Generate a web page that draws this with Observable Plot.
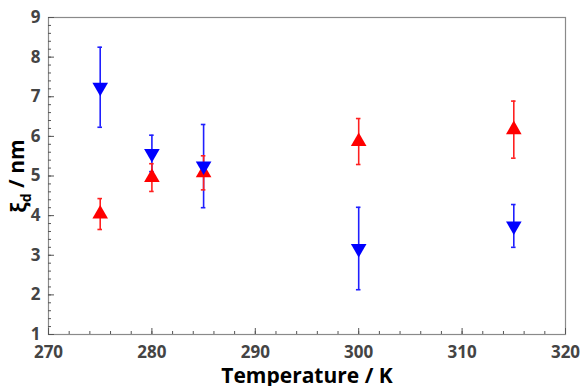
<!DOCTYPE html>
<html>
<head>
<meta charset="utf-8">
<script src="https://cdn.jsdelivr.net/npm/d3@7"></script>
<script src="https://cdn.jsdelivr.net/npm/@observablehq/plot@0.6"></script>
<style>
  html, body { margin: 0; padding: 0; background: #fff; }
  svg { display: block; }
</style>
</head>
<body>
<div id="chart"></div>
<script>
// Data
const temperatures = [275, 280, 285, 300, 315];
const blueValues = [7.24, 5.57, 5.25, 3.17, 3.74];   // downward triangles
const blueErrors = [1.01, 0.46, 1.05, 1.04, 0.54];
const redValues  = [4.04, 4.96, 5.08, 5.87, 6.17];   // upward triangles
const redErrors  = [0.39, 0.35, 0.43, 0.58, 0.72];
const xMajorTicks = [270, 280, 290, 300, 310, 320];
const xMinorTicks = d3.range(270, 321, 2);
const yMajorTicks = [1, 2, 3, 4, 5, 6, 7, 8, 9];
const yMinorTicks = d3.range(1, 9.01, 0.2).map(v => +v.toFixed(1));

const blue = temperatures.map((t, i) => ({t, v: blueValues[i], e: blueErrors[i]}));
const red = temperatures.map((t, i) => ({t, v: redValues[i], e: redErrors[i]}));

const capHalf = 0.22;
const fontFam = "'Open Sans', 'DejaVu Sans', sans-serif";

function bars(data, color) {
  return [
    Plot.ruleX(data, {x: "t", y1: d => d.v - d.e, y2: d => d.v + d.e, stroke: color, strokeWidth: 1.6}),
    Plot.ruleY(data, {y: d => d.v + d.e, x1: d => d.t - capHalf, x2: d => d.t + capHalf, stroke: color, strokeWidth: 1.6}),
    Plot.ruleY(data, {y: d => d.v - d.e, x1: d => d.t - capHalf, x2: d => d.t + capHalf, stroke: color, strokeWidth: 1.6})
  ];
}

const chart = Plot.plot({
  width: 580,
  height: 386,
  marginLeft: 48,
  marginRight: 15,
  marginTop: 17,
  marginBottom: 52,
  style: {fontFamily: fontFam, background: "#fff"},
  x: {domain: [270, 320]},
  y: {domain: [1, 9]},
  marks: [
    Plot.frame({stroke: "#8a8a8a", strokeWidth: 1.2}),
    // minor ticks (inward)
    Plot.axisX({ticks: xMinorTicks, tickSize: -3, tickFormat: () => "", label: null, stroke: "#555"}),
    Plot.axisY({ticks: yMinorTicks, tickSize: -3, tickFormat: () => "", label: null, stroke: "#555"}),
    // major ticks (inward)
    Plot.axisX({ticks: xMajorTicks, tickSize: -6, tickFormat: () => "", label: null, stroke: "#555"}),
    Plot.axisY({ticks: yMajorTicks, tickSize: -6, tickFormat: () => "", label: null, stroke: "#555"}),
    // labels
    Plot.axisX({ticks: xMajorTicks, tickSize: 0, tickPadding: 11, fontSize: 17, fontWeight: "bold", fill: "#444",
      label: "Temperature / K", labelAnchor: "center", labelOffset: 48, labelArrow: "none"}),
    Plot.axisY({ticks: yMajorTicks, tickSize: 0, tickPadding: 8, fontSize: 17, fontWeight: "bold", fill: "#444",
      label: "ξd / nm", labelAnchor: "center", labelOffset: 37, labelArrow: "none"}),
    ...bars(blue, "#1f1fff"),
    ...bars(red, "#ff2020"),
    Plot.dot(red, {x: "t", y: "v", symbol: "triangle", r: 5.8, fill: "#ff0000", stroke: "none"}),
    Plot.dot(blue, {x: "t", y: "v", symbol: "triangle", rotate: 180, r: 5.8, fill: "#0000ff", stroke: "none"})
  ]
});

document.getElementById("chart").appendChild(chart);

// Style axis titles and add the subscript in ξd
chart.querySelectorAll("text").forEach(t => {
  if (t.textContent === "Temperature / K") {
    t.setAttribute("font-size", 21);
    t.setAttribute("font-weight", "bold");
    t.setAttribute("fill", "#000");
  }
  if (t.textContent === "ξd / nm") {
    t.setAttribute("font-size", 21);
    t.setAttribute("font-weight", "bold");
    t.setAttribute("fill", "#000");
    t.innerHTML = 'ξ<tspan dy="0.3em" font-size="14">d</tspan><tspan dy="-0.3em"> / nm</tspan>';
  }
});
</script>
</body>
</html>
